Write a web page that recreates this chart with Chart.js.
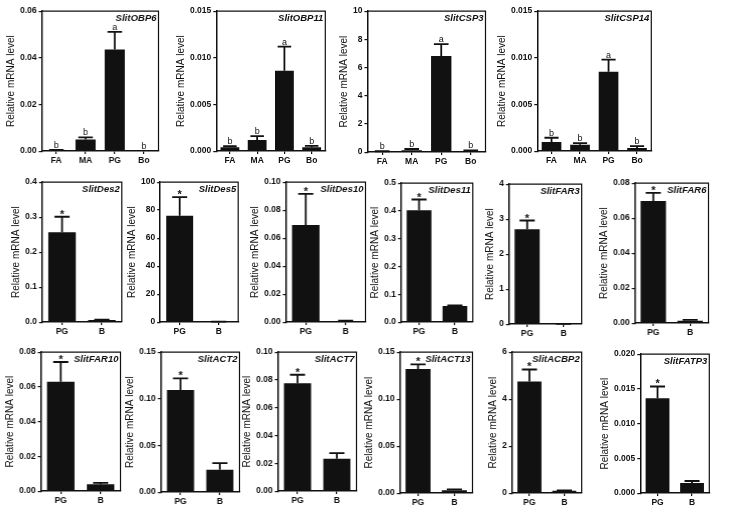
<!DOCTYPE html>
<html>
<head>
<meta charset="utf-8">
<script src="https://cdn.jsdelivr.net/npm/chart.js@4.4.1/dist/chart.umd.min.js"></script>
<style>
    html, body { margin: 0; padding: 0; background: #fff; }
    #fig { position: relative; width: 733px; height: 513px; overflow: hidden; }
    .panel { position: absolute; }
</style>
</head>
<body>
<div id="fig"></div>
<script>
// Expression of pheromone-gland genes, one small bar chart per gene.
const genes = ['SlitOBP6', 'SlitOBP11', 'SlitCSP3', 'SlitCSP14',
    'SlitDes2', 'SlitDes5', 'SlitDes10', 'SlitDes11', 'SlitFAR3', 'SlitFAR6',
    'SlitFAR10', 'SlitACT2', 'SlitACT7', 'SlitACT13', 'SlitACBP2', 'SlitFATP3'];
const tissues4 = ['FA', 'MA', 'PG', 'Bo'];
const tissues2 = ['PG', 'B'];

const means = [
    [0.0004, 0.0050, 0.0435, 0.0001],
    [0.0004, 0.0012, 0.0086, 0.0004],
    [0.05, 0.14, 6.82, 0.07],
    [0.00097, 0.00068, 0.0085, 0.00032],
    [0.257, 0.006],
    [76.0, 0.3],
    [0.0694, 0.0008],
    [0.402, 0.058],
    [2.71, 0.005],
    [0.0698, 0.0014],
    [0.0630, 0.0040],
    [0.1094, 0.0239],
    [0.0776, 0.0233],
    [0.132, 0.003],
    [4.75, 0.10],
    [0.01364, 0.00144]
];
const sems = [
    [0.0001, 0.0009, 0.0076, 0.0],
    [0.00012, 0.0004, 0.0026, 0.00015],
    [0.01, 0.08, 0.84, 0.05],
    [0.00046, 0.00018, 0.0013, 0.00022],
    [0.044, 0.001],
    [13.3, 0.1],
    [0.0222, 0.0002],
    [0.039, 0.002],
    [0.25, 0.002],
    [0.0046, 0.0004],
    [0.0113, 0.0007],
    [0.0124, 0.0071],
    [0.0061, 0.0040],
    [0.005, 0.001],
    [0.51, 0.02],
    [0.0017, 0.0003]
];
const yMax = [0.06, 0.015, 10, 0.015, 0.4, 100, 0.10, 0.5, 4, 0.08, 0.08, 0.15, 0.10, 0.15, 6, 0.020];
const yStep = [0.02, 0.005, 2, 0.005, 0.1, 20, 0.02, 0.1, 1, 0.02, 0.02, 0.05, 0.02, 0.05, 2, 0.005];
const letters4 = ['b', 'b', 'a', 'b'];
const stars2 = ['*', ''];

// plot area of each panel on the page: left, top, right, bottom
const boxes = [
    [42, 11, 158, 151], [216, 11, 325, 151], [367, 11, 485, 152], [537, 11, 651, 151],
    [42, 182, 121, 322], [160, 182, 238, 322], [286, 182, 365, 322],
    [401, 183, 472, 322], [509, 184, 581, 324], [635, 183, 708, 323],
    [41, 352, 120, 491], [161, 352, 239, 492], [278, 352, 356, 491],
    [400, 352, 472, 493], [512, 352, 581, 493], [640, 354, 709, 493]
];

const FONT = "'Liberation Sans', Arial, Helvetica, sans-serif";
Chart.defaults.font.family = FONT;
Chart.defaults.color = '#111';

function decimalsOf(step) {
    const s = String(step);
    return s.includes('.') ? s.split('.')[1].length : 0;
}

function makeDecor(i) {
    return {
        id: 'decor' + i,
        afterDatasetsDraw(chart) {
            const { ctx, chartArea: a } = chart;
            const y = chart.scales.y;
            const marks = means[i].length === 4 ? letters4 : stars2;
            const meta = chart.getDatasetMeta(0);
            ctx.save();
            ctx.strokeStyle = '#111';
            ctx.fillStyle = '#111';
            ctx.lineWidth = 1.8;
            ctx.textAlign = 'center';
            ctx.textBaseline = 'alphabetic';
            meta.data.forEach((bar, k) => {
                const top = y.getPixelForValue(means[i][k] + sems[i][k]);
                const hw = Math.min(7.5, bar.width * 0.36);
                if (sems[i][k] > 0) {
                    ctx.beginPath();
                    ctx.moveTo(bar.x, bar.y);
                    ctx.lineTo(bar.x, top);
                    ctx.moveTo(bar.x - hw, top);
                    ctx.lineTo(bar.x + hw, top);
                    ctx.stroke();
                }
                const m = marks[k];
                if (m === '*') {
                    ctx.font = 'bold 11px ' + FONT;
                    ctx.fillText(m, bar.x, top + 1);
                } else if (m) {
                    ctx.font = '9px ' + FONT;
                    ctx.fillText(m, bar.x, top - 2);
                }
            });
            // top and right sides of the frame
            ctx.lineWidth = 1.2;
            ctx.beginPath();
            ctx.moveTo(a.left, a.top);
            ctx.lineTo(a.right, a.top);
            ctx.lineTo(a.right, a.bottom);
            ctx.stroke();
            ctx.font = 'italic bold 9.5px ' + FONT;
            ctx.textAlign = 'right';
            ctx.textBaseline = 'top';
            ctx.fillText(genes[i], a.right - 2, a.top + 3);
            ctx.restore();
        }
    };
}

function buildPanel(i) {
    const box = boxes[i];
    const fig = document.getElementById('fig');
    const wrap = document.createElement('div');
    wrap.className = 'panel';
    const w0 = box[2] - box[0] + 60;
    const h0 = box[3] - box[1] + 30;
    wrap.style.left = (box[0] - 50) + 'px';
    wrap.style.top = (box[1] - 6) + 'px';
    wrap.style.width = w0 + 'px';
    wrap.style.height = h0 + 'px';
    const canvas = document.createElement('canvas');
    wrap.appendChild(canvas);
    fig.appendChild(wrap);

    const dec = decimalsOf(yStep[i]);
    const chart = new Chart(canvas, {
        type: 'bar',
        data: {
            labels: means[i].length === 4 ? tissues4 : tissues2,
            datasets: [{
                data: means[i],
                backgroundColor: '#111',
                borderWidth: 0,
                categoryPercentage: 1,
                barPercentage: 0.69
            }]
        },
        options: {
            responsive: true,
            maintainAspectRatio: false,
            animation: false,
            layout: { padding: { top: 6, right: 2, left: 0, bottom: 0 } },
            plugins: { legend: { display: false }, tooltip: { enabled: false } },
            scales: {
                x: {
                    grid: { offset: false, drawOnChartArea: false, drawTicks: true, tickLength: 3, color: '#111', lineWidth: 1.2 },
                    border: { color: '#111', width: 1.5 },
                    ticks: { font: { size: 8.5, weight: 'bold' }, padding: 1, color: '#111' }
                },
                y: {
                    min: 0,
                    max: yMax[i],
                    grid: { drawOnChartArea: false, drawTicks: true, tickLength: 3, color: '#111', lineWidth: 1.2 },
                    border: { color: '#111', width: 1.5 },
                    ticks: {
                        stepSize: yStep[i],
                        autoSkip: false,
                        font: { size: 8.5, weight: 'bold' },
                        padding: 2,
                        color: '#111',
                        callback: v => Number(v).toFixed(dec)
                    },
                    title: {
                        display: true,
                        text: 'Relative mRNA level',
                        font: { size: 10 },
                        color: '#111',
                        padding: { top: 0, bottom: 1 }
                    }
                }
            }
        },
        plugins: [makeDecor(i)]
    });

    // shift and size the panel so its plot area lands on the box
    const a = chart.chartArea;
    wrap.style.left = (box[0] - a.left) + 'px';
    wrap.style.top = (box[1] - a.top) + 'px';
    wrap.style.width = (w0 + (box[2] - box[0]) - (a.right - a.left)) + 'px';
    wrap.style.height = (h0 + (box[3] - box[1]) - (a.bottom - a.top)) + 'px';
    chart.resize();
}

genes.forEach((g, i) => buildPanel(i));
</script>
</body>
</html>
